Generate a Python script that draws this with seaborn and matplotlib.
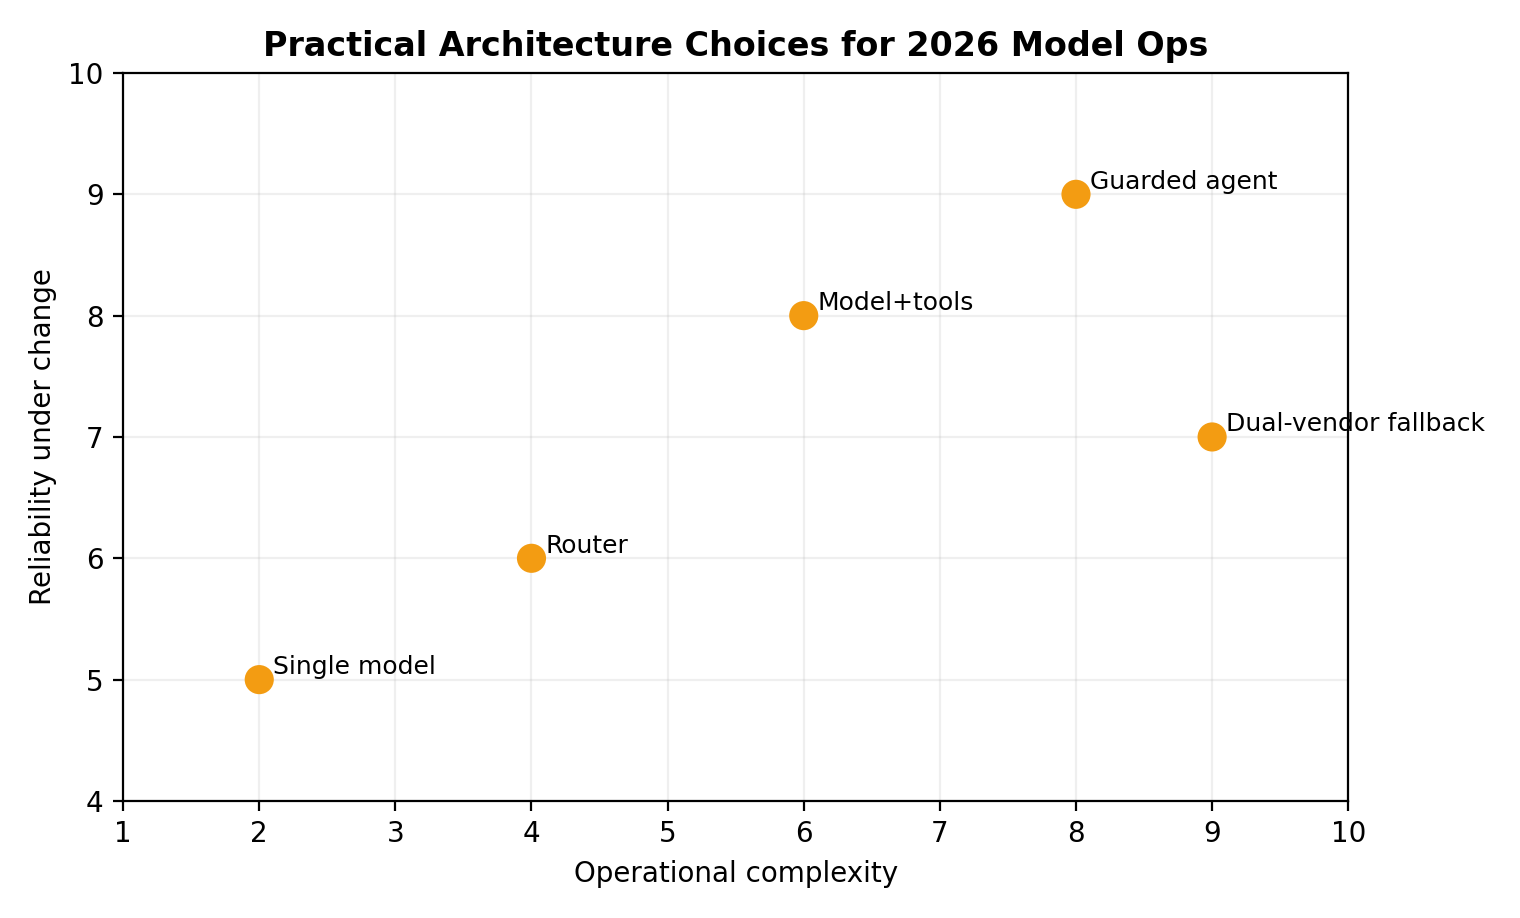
import matplotlib
matplotlib.use("Agg")
import matplotlib.pyplot as plt
import pandas as pd
import seaborn as sns

# architecture options: complexity vs reliability
options = ["Single model", "Router", "Model+tools", "Guarded agent", "Dual-vendor fallback"]
complexity = [2, 4, 6, 8, 9]
reliability = [5, 6, 8, 9, 7]

df = pd.DataFrame({"option": options, "complexity": complexity, "reliability": reliability})

fig, ax = plt.subplots(figsize=(7.6, 4.59), dpi=200)
fig.subplots_adjust(left=0.081, right=0.887, top=0.9205, bottom=0.1275)

sns.scatterplot(data=df, x="complexity", y="reliability", ax=ax,
                color="#f39c12", s=110, edgecolor="none", zorder=3)

for _, row in df.iterrows():
    ax.annotate(row["option"], (row["complexity"], row["reliability"]),
                xytext=(5, 2), textcoords="offset points", fontsize=9)

ax.set_xlim(1, 10)
ax.set_ylim(4, 10)
ax.set_xticks(range(1, 11))
ax.set_yticks(range(4, 11))
ax.grid(True, alpha=0.2)
ax.set_axisbelow(True)
ax.set_xlabel("Operational complexity")
ax.set_ylabel("Reliability under change")
ax.set_title("Practical Architecture Choices for 2026 Model Ops", fontsize=12, fontweight="bold")

fig.savefig("out.png", dpi=200)
